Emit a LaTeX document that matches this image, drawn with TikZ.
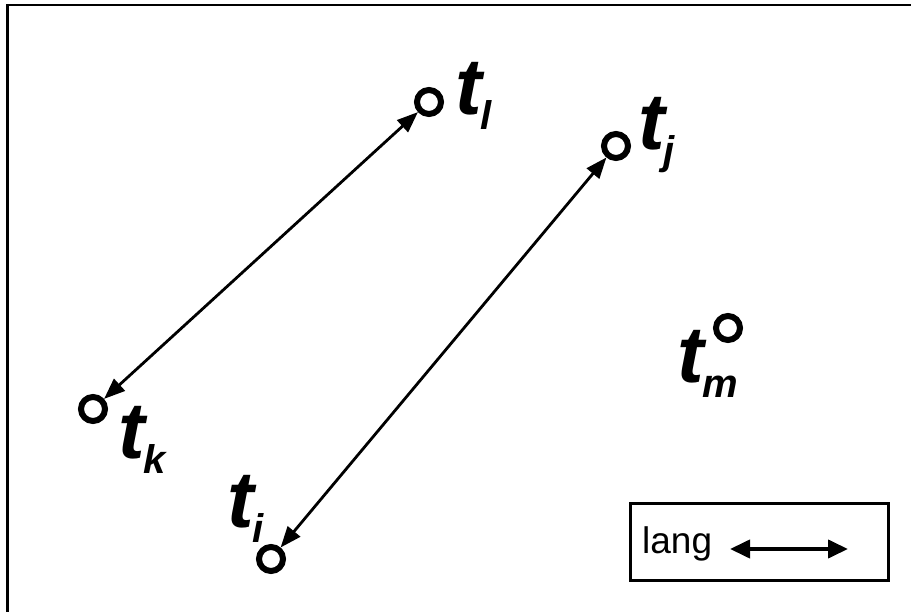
\documentclass[tikz,border=0pt]{standalone}
\usepackage{fontspec}
\setmainfont{Liberation Sans}
\usepackage{tikz}
\usetikzlibrary{arrows.meta}

\newcommand{\tsub}[1]{t\kern-1pt\raisebox{-15pt}{\fontsize{40}{42}\selectfont #1}}

\begin{document}
\begin{tikzpicture}[x=1pt, y=-1pt,
    ring/.style={circle, draw, line width=6pt, minimum size=24pt, inner sep=0pt},
    tlab/.style={anchor=base west, inner sep=0pt, font=\fontsize{80}{84}\selectfont\bfseries\itshape},
    dbl/.style={line width=2.8pt, {Triangle[length=21pt, width=16pt]}-{Triangle[length=21pt, width=16pt]}}]
    \useasboundingbox (0,0) rectangle (911,612);
    \draw[line width=2.5pt] (7.5,612) -- (7.5,5) -- (911,5);

    \node[ring] (cl) at (429,102) {};
    \node[ring] (cj) at (616,146) {};
    \node[ring] (ck) at (93,409) {};
    \node[ring] (ci) at (271,559) {};
    \node[ring] (cm) at (728,328) {};

    \node[tlab] (tl) at (455,115) {\tsub{l}};
    \node[tlab] (tj) at (638,150) {\tsub{j}};
    \node[tlab] (tk) at (118,458) {\tsub{k}};
    \node[tlab] (ti) at (227,527) {\tsub{i}};
    \node[tlab] (tm) at (677,383) {\tsub{m}};

    \draw[dbl] (ck) -- (cl);
    \draw[dbl] (ci) -- (cj);

    \node[draw, line width=3pt, minimum width=258pt, minimum height=77pt] (legend) at (759,541.5) {};
    \node[anchor=base west, inner sep=0pt, font=\fontsize{37}{40}\selectfont] (lang) at (642,553) {lang};
    \coordinate (la) at (730,549);
    \coordinate (lb) at (848,549);
    \draw[line width=4pt, {Triangle[length=20pt, width=18pt]}-{Triangle[length=20pt, width=18pt]}] (la) -- (lb);
\end{tikzpicture}
\end{document}
